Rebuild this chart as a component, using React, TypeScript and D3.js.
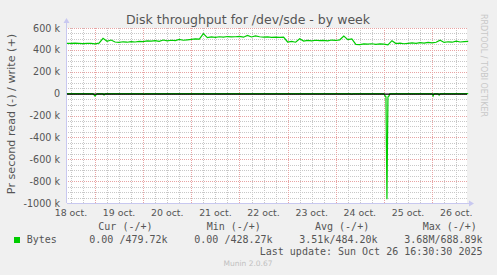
import React from "react";
import * as d3 from "d3";

// ---- data ----
const title = "Disk throughput for /dev/sde - by week";
const yAxisTitle = "Pr second read (-) / write (+)";
const yTicks = [600, 400, 200, 0, -200, -400, -600, -800, -1000];
const yTickLabels = ["600 k", "400 k", "200 k", "0", "-200 k", "-400 k", "-600 k", "-800 k", "-1000 k"];
const dayLabels = ["18 oct.", "19 oct.", "20 oct.", "21 oct.", "22 oct.", "23 oct.", "24 oct.", "25 oct.", "26 oct."];
// label position in hours relative to 19 oct 00:00 (noon of each day)
const dayLabelHours = [-12, 12, 36, 60, 84, 108, 132, 156, 180];

// write (+) series, k bytes/s, every 2 hours from 18 oct 10:00
const writeStartHour = -14;
const writeStepHours = 2;
const writeValues = [
  460, 459, 461, 460, 458, 460, 459, 455, 462, 505, 478, 490, 472, 468, 474, 470,
  476, 472, 478, 476, 482, 480, 485, 478, 490, 482, 488, 484, 495, 488, 492, 496,
  500, 498, 548, 512, 518, 514, 520, 516, 522, 518, 520, 524, 516, 532, 518, 528,
  520, 516, 518, 515, 517, 514, 516, 472, 478, 470, 502, 480, 486, 482, 488, 484,
  486, 482, 490, 486, 492, 526, 494, 500, 450, 448, 454, 452, 456, 450, 454, 452,
  445, 484, 458, 462, 456, 460, 464, 460, 466, 462, 468, 464, 470, 488, 468, 474,
  470, 480, 472, 476, 478,
];

// read (-) series, hours relative to 19 oct 00:00, values in k (negated)
const readHours = [-14, -1, 0, 1, 4, 4.5, 5, 24, 24.5, 25, 127.5, 128, 128.5, 144, 144.5, 145, 145.5, 146, 146.5, 147, 168, 168.5, 169, 171, 171.5, 172, 186];
const readValues = [0, 0, -22, 0, 0, -12, 0, 0, -6, 0, 0, -4, 0, 0, -20, -28, -965, -30, -22, 0, 0, -22, 0, 0, -14, 0, 0];

const legendHeaders = ["Cur (-/+)", "Min (-/+)", "Avg (-/+)", "Max (-/+)"];
const legendValues = ["0.00 /479.72k", "0.00 /428.27k", "3.51k/484.20k", "3.68M/688.89k"];
const seriesName = "Bytes";
const lastUpdate = "Last update: Sun Oct 26 16:30:30 2025";
const version = "Munin 2.0.67";
const sideText = "RRDTOOL / TOBI OETIKER";

// ---- layout ----
const W = 497;
const H = 275;
const L = 67;
const R = 467;
const T = 28;
const B = 203;

export default function App() {
  const x = d3.scaleLinear().domain([-13.96, 185.4]).range([L, R]);
  const y = d3.scaleLinear().domain([600, -1000]).range([T, B]);

  const writeData = writeValues.map((v, i) => [writeStartHour + i * writeStepHours, v] as [number, number]);
  const readData = readHours.map((h, i) => [h, readValues[i]] as [number, number]);
  const line = d3
    .line<[number, number]>()
    .x((d) => x(d[0]))
    .y((d) => y(d[1]));

  const minorY = d3.range(600, -1001, -50).filter((v) => v % 200 !== 0);
  const majorY = yTicks;
  const minorX = d3.range(-12, 186, 6).filter((h) => h % 24 !== 0 && x(h) > L + 0.5 && x(h) < R);
  const majorX = d3.range(0, 186, 24);

  const textCol = "#555";
  const mono = "'DejaVu Sans Mono', monospace";
  const sans = "'DejaVu Sans', sans-serif";
  const legendHeaderX = [98.3, 206.7, 315, 422.7];
  const legendValueX = [89.3, 194.3, 299.3, 404.3];
  const pix = (v: number) => Math.round(v);

  return (
    <svg width={W} height={H} style={{ position: "absolute", left: 0, top: 0 }} shapeRendering="crispEdges">
      <defs>
        <pattern id="hMinor" patternUnits="userSpaceOnUse" x={0} y={0} width={2} height={1}>
          <rect x={0} y={0} width={1} height={1} fill="#c8c8c8" />
        </pattern>
        <pattern id="vMinor" patternUnits="userSpaceOnUse" x={0} y={0} width={1} height={2}>
          <rect x={0} y={0} width={1} height={1} fill="#c8c8c8" />
        </pattern>
        <pattern id="hMajor" patternUnits="userSpaceOnUse" x={0} y={0} width={2} height={1}>
          <rect x={0} y={0} width={1} height={1} fill="#e8a4a4" />
        </pattern>
        <pattern id="vMajor" patternUnits="userSpaceOnUse" x={0} y={0} width={1} height={2}>
          <rect x={0} y={0} width={1} height={1} fill="#e8a4a4" />
        </pattern>
      </defs>
      <rect x={0} y={0} width={W} height={H} fill="#f0f0f0" />
      <rect x={L} y={T} width={R - L} height={B - T} fill="#ffffff" />
      {/* minor grid */}
      {minorY.map((v) => (
        <rect key={"my" + v} x={L} width={R - L} y={pix(y(v))} height={1} fill="url(#hMinor)" />
      ))}
      {minorX.map((h) => (
        <rect key={"mx" + h} x={pix(x(h))} width={1} y={T} height={B - T} fill="url(#vMinor)" />
      ))}
      {/* major grid */}
      {majorY.map((v) => (
        <rect key={"My" + v} x={L} width={R - L} y={pix(y(v))} height={1} fill="url(#hMajor)" />
      ))}
      {majorX.map((h) => (
        <rect key={"Mx" + h} x={pix(x(h))} width={1} y={T} height={B - T} fill="url(#vMajor)" />
      ))}
      {/* axes */}
      <g stroke="#c8c8f0" strokeWidth={1}>
        <line x1={L - 0.5} x2={L - 0.5} y1={B} y2={T - 6} />
        <line x1={L} x2={R + 3} y1={B + 0.5} y2={B + 0.5} />
      </g>
      <path
        d={`M${L - 3.5},${T - 5} L${L - 0.5},${T - 10} L${L + 2.5},${T - 5} Z`}
        fill="#c8c8f0"
        shapeRendering="auto"
      />
      <path
        d={`M${R + 2},${B - 2.5} L${R + 7},${B + 0.5} L${R + 2},${B + 3.5} Z`}
        fill="#c8c8f0"
        shapeRendering="auto"
      />
      {/* series */}
      <g shapeRendering="auto">
        <path d={line(readData) || ""} fill="none" stroke="#00cc00" strokeWidth={1.2} />
        <line x1={L} x2={R} y1={y(0) + 0.5} y2={y(0) + 0.5} stroke="#000" strokeWidth={1.3} />
        <path d={line(writeData) || ""} fill="none" stroke="#00cc00" strokeWidth={1.2} />
      </g>
      {/* y tick labels */}
      <g fontFamily={sans} fontSize={9.6} fill={textCol} textAnchor="end">
        {yTicks.map((v, i) => (
          <text key={"yl" + v} x={L - 7} y={y(v) + 3.5}>
            {yTickLabels[i]}
          </text>
        ))}
      </g>
      {/* x tick labels */}
      <g fontFamily={sans} fontSize={9.4} fill={textCol} textAnchor="middle">
        {dayLabels.map((d, i) => (
          <text key={d} x={x(dayLabelHours[i])} y={B + 13}>
            {d}
          </text>
        ))}
      </g>
      {/* title */}
      <text x={248} y={23.5} fontFamily={sans} fontSize={12.5} fill={textCol} textAnchor="middle">
        {title}
      </text>
      <text
        transform={`translate(15,114) rotate(-90)`}
        fontFamily={sans}
        fontSize={11.2}
        fill={textCol}
        textAnchor="middle"
      >
        {yAxisTitle}
      </text>
      <text
        transform={`translate(481,14) rotate(90)`}
        fontFamily={sans}
        fontSize={8}
        fill="#c8c8c8"
        textAnchor="start"
      >
        {sideText}
      </text>
      {/* legend */}
      <g fontFamily={mono} fontSize={10} fill={textCol}>
        {legendHeaders.map((t, i) => (
          <text key={t} x={legendHeaderX[i]} y={230} style={{ whiteSpace: "pre" }}>
            {t}
          </text>
        ))}
        <rect x={14} y={237} width={6} height={6} fill="#00cc00" />
        <text x={26.7} y={243}>{seriesName}</text>
        {legendValues.map((t, i) => (
          <text key={t} x={legendValueX[i]} y={243} style={{ whiteSpace: "pre" }}>
            {t}
          </text>
        ))}
        <text x={482.5} y={255} textAnchor="end" style={{ whiteSpace: "pre" }}>
          {lastUpdate}
        </text>
      </g>
      <text x={248} y={266} fontFamily={sans} fontSize={7.5} fill="#c0c0c0" textAnchor="middle">
        {version}
      </text>
    </svg>
  );
}
